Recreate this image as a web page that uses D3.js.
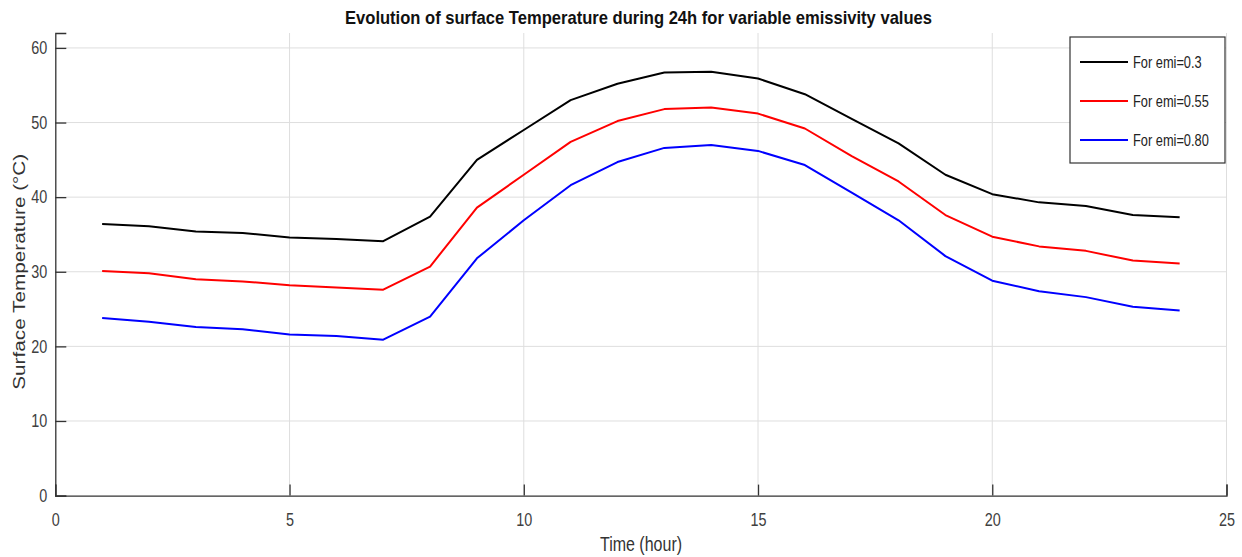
<!DOCTYPE html>
<html>
<head>
<meta charset="utf-8">
<script src="https://cdn.jsdelivr.net/npm/d3@7"></script>
<style>
  body { margin: 0; background: #fff; }
  text { font-family: "Liberation Sans", Arial, sans-serif; }
</style>
</head>
<body>
<div id="graph"></div>
<script>
// data
let hours = d3.range(1, 25);
let emi030 = [36.4, 36.1, 35.4, 35.2, 34.6, 34.4, 34.1, 37.4, 45.0, 49.0, 53.0, 55.2, 56.7, 56.8, 55.9, 53.8, 50.5, 47.2, 43.0, 40.4, 39.3, 38.8, 37.6, 37.3];
let emi055 = [30.1, 29.8, 29.0, 28.7, 28.2, 27.9, 27.6, 30.7, 38.6, 43.0, 47.4, 50.2, 51.8, 52.0, 51.2, 49.2, 45.5, 42.1, 37.6, 34.7, 33.4, 32.8, 31.5, 31.1];
let emi080 = [23.8, 23.3, 22.6, 22.3, 21.6, 21.4, 20.9, 24.0, 31.8, 36.9, 41.6, 44.7, 46.6, 47.0, 46.2, 44.3, 40.6, 36.9, 32.1, 28.8, 27.4, 26.6, 25.3, 24.8];
let seriesNames = ["For emi=0.3", "For emi=0.55", "For emi=0.80"];
let seriesColors = ["#000000", "#ff0000", "#0000ff"];
let xTicks = [0, 5, 10, 15, 20, 25];
let yTicks = [0, 10, 20, 30, 40, 50, 60];

let width = 1242, height = 557;
let margin = {left: 55.3, right: 15.5, top: 33, bottom: 61.4};
let squeeze = 0.8;  // the original figure is a bit narrow horizontally

let svg = d3.select("#graph")
    .append("svg")
    .attr("width", width)
    .attr("height", height);

// squeeze text horizontally without moving its anchor
function narrow(sel) {
    sel.each(function() {
        let w = this.getComputedTextLength();
        d3.select(this)
            .attr("textLength", w * squeeze)
            .attr("lengthAdjust", "spacingAndGlyphs");
    });
}

let x = d3.scaleLinear()
    .domain([0, 25])
    .range([margin.left, width - margin.right]);

let y = d3.scaleLinear()
    .domain([0, 62])
    .range([height - margin.bottom, margin.top]);

// grid
let grid = svg.append("g");
grid.selectAll("line.gx").data(xTicks.slice(1)).enter()
    .append("line")
    .attr("x1", d => x(d)).attr("x2", d => x(d))
    .attr("y1", y(0)).attr("y2", margin.top)
    .attr("stroke", "#dedede").attr("stroke-width", 1);
grid.selectAll("line.gy").data(yTicks.slice(1)).enter()
    .append("line")
    .attr("x1", x(0)).attr("x2", x(25))
    .attr("y1", d => y(d)).attr("y2", d => y(d))
    .attr("stroke", "#dedede").attr("stroke-width", 1);

// axes, ticks pointing inward like matlab
let xAxis = svg.append("g")
    .attr("transform", `translate(0, ${y(0)})`)
    .call(d3.axisTop(x).tickValues(xTicks).tickSize(11).tickFormat(d3.format("d")));
xAxis.selectAll("text")
    .attr("y", 21).attr("dy", "0.5em")
    .style("font-size", "18px").attr("fill", "#404040")
    .call(narrow);

let yAxis = svg.append("g")
    .attr("transform", `translate(${x(0)}, 0)`)
    .call(d3.axisRight(y).tickValues(yTicks).tickSize(11).tickFormat(d3.format("d")));
yAxis.selectAll("text")
    .attr("x", -8).style("text-anchor", "end")
    .style("font-size", "18px").attr("fill", "#404040")
    .call(narrow);

svg.selectAll(".domain").attr("stroke", "#333").attr("stroke-width", 1.3);
svg.selectAll(".tick line").attr("stroke", "#333").attr("stroke-width", 1.3);

// lines
let line = d3.line()
    .x((d, i) => x(hours[i]))
    .y(d => y(d));

let allSeries = [emi030, emi055, emi080];
svg.selectAll("path.series").data(allSeries).enter()
    .append("path")
    .attr("class", "series")
    .attr("d", d => line(d))
    .attr("fill", "none")
    .attr("stroke", (d, i) => seriesColors[i])
    .attr("stroke-width", 2)
    .attr("stroke-linejoin", "round");

// title and labels
svg.append("text")
    .attr("x", 638.5).attr("y", 24)
    .style("text-anchor", "middle")
    .style("font-size", "19px").style("font-weight", "bold")
    .attr("textLength", 587).attr("lengthAdjust", "spacingAndGlyphs")
    .attr("fill", "#111")
    .text("Evolution of surface Temperature during 24h for variable emissivity values");

svg.append("text")
    .attr("x", 641).attr("y", 551)
    .style("text-anchor", "middle")
    .style("font-size", "20px")
    .attr("fill", "#333")
    .text("Time (hour)")
    .call(narrow);

// rotated label: squeeze its thickness so it matches the narrow figure
svg.append("text")
    .attr("transform", `translate(25, ${y(30)}) rotate(-90) scale(1, ${squeeze})`)
    .style("text-anchor", "middle")
    .style("font-size", "20px")
    .attr("textLength", 236).attr("lengthAdjust", "spacingAndGlyphs")
    .attr("fill", "#333")
    .text("Surface Temperature (°C)");

// legend
let legend = svg.append("g");
legend.append("rect")
    .attr("x", 1070).attr("y", 37)
    .attr("width", 155).attr("height", 126)
    .attr("fill", "#fff").attr("stroke", "#333").attr("stroke-width", 1.2);

let rows = legend.selectAll("g.row").data(seriesNames).enter()
    .append("g")
    .attr("transform", (d, i) => `translate(1080, ${62 + i * 39})`);
rows.append("line")
    .attr("x1", 0).attr("x2", 48)
    .attr("stroke", (d, i) => seriesColors[i])
    .attr("stroke-width", 2);
rows.append("text")
    .attr("x", 53).attr("dy", "0.35em")
    .style("font-size", "16px")
    .attr("fill", "#222")
    .text(d => d)
    .call(narrow);
</script>
</body>
</html>
